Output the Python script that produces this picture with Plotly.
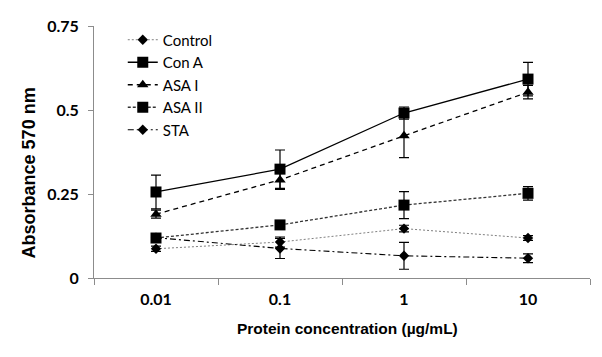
import plotly.graph_objects as go

categories = ["0.01", "0.1", "1", "10"]
series_names = ["Control", "Con A", "ASA I", "ASA II", "STA"]
control = [0.087, 0.107, 0.147, 0.119]
control_err = [0.008, 0.015, 0.010, 0.007]
con_a = [0.256, 0.324, 0.491, 0.592]
con_a_err = [0.050, 0.057, 0.018, 0.050]
asa_i = [0.190, 0.292, 0.423, 0.553]
asa_i_err = [0.012, 0.028, 0.065, 0.020]
asa_ii = [0.119, 0.158, 0.217, 0.252]
asa_ii_err = [0.008, 0.005, 0.040, 0.020]
sta = [0.120, 0.088, 0.066, 0.059]
sta_err = [0.008, 0.030, 0.040, 0.013]
y_ticks = [0, 0.25, 0.5, 0.75]
y_tick_text = ["0", "0.25", "0.5", "0.75"]
x_title = "Protein concentration (µg/mL)"
y_title = "Absorbance 570 nm"

styles = [
    dict(dash="2px,2px", width=1, color="#808080", symbol="diamond", size=8),
    dict(dash="solid", width=1.3, color="black", symbol="square", size=11),
    dict(dash="5px,4px", width=1.3, color="black", symbol="triangle-up", size=10),
    dict(dash="3px,2px", width=1.3, color="#333333", symbol="square", size=11),
    dict(dash="6px,3px,2px,3px", width=1.1, color="black", symbol="diamond", size=8),
]
values = [control, con_a, asa_i, asa_ii, sta]
errors = [control_err, con_a_err, asa_i_err, asa_ii_err, sta_err]

fig = go.Figure()
for name, vals, errs, st in zip(series_names, values, errors, styles):
    fig.add_trace(go.Scatter(
        x=categories, y=vals, name=name, mode="lines+markers",
        legendgroup=name,
        line=dict(color=st["color"], width=st["width"], dash=st["dash"]),
        marker=dict(symbol=st["symbol"], size=st["size"], color="black"),
        error_y=dict(type="data", array=errs, visible=True, color="black",
                     thickness=1.2, width=5),
    ))

tick_family = "Lato, 'Open Sans', Arial, sans-serif"
title_family = "'Liberation Sans', Arial, sans-serif"
fig.update_layout(
    width=602, height=357,
    margin=dict(l=86, r=20, t=18, b=87),
    paper_bgcolor="white", plot_bgcolor="white",
    font=dict(family=tick_family, size=15, color="black"),
    showlegend=True,
    legend=dict(x=0.058, y=1.01, xanchor="left", yanchor="top",
                bgcolor="rgba(0,0,0,0)", font=dict(size=15, family=tick_family),
                tracegroupgap=0),
    xaxis=dict(
        type="category", range=[-0.5, 3.5], tickson="boundaries",
        showline=True, linecolor="#8c8c8c", linewidth=1,
        ticks="outside", ticklen=6, tickcolor="#8c8c8c",
        showgrid=False, zeroline=False, automargin=False,
        ticklabelstandoff=7,
        tickfont=dict(size=16, family=tick_family, weight="bold"),
    ),
    yaxis=dict(
        range=[0, 0.75], tickvals=y_ticks, ticktext=y_tick_text,
        showline=True, linecolor="#8c8c8c", linewidth=1,
        ticks="outside", ticklen=5, tickcolor="#8c8c8c",
        showgrid=False, zeroline=False, automargin=False,
        ticklabelstandoff=6,
        tickfont=dict(size=16, family=tick_family, weight="bold"),
    ),
    annotations=[
        dict(text="<b>" + y_title + "</b>", textangle=-90, showarrow=False,
             xref="paper", yref="paper", x=0, y=0.415,
             xanchor="center", yanchor="middle", xshift=-65,
             font=dict(size=18, family=title_family, color="black")),
        dict(text="<b>" + x_title + "</b>", showarrow=False,
             xref="paper", yref="paper", x=0.512, y=0,
             xanchor="center", yanchor="middle", yshift=-50,
             font=dict(size=15.5, family=title_family, color="black")),
    ],
)

fig.write_html("out.html")
